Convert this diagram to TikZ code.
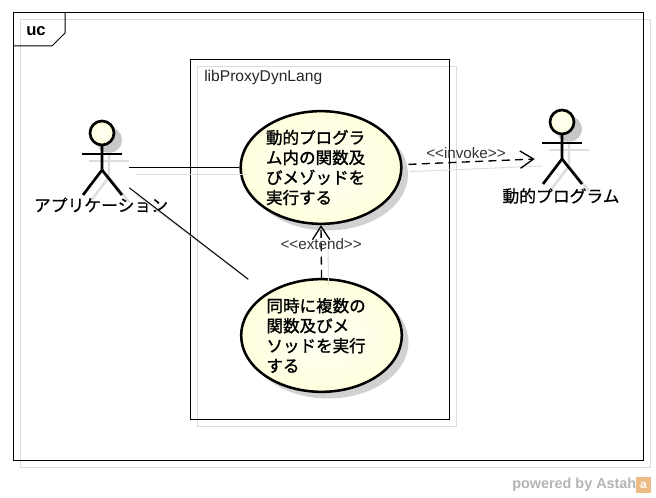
\documentclass[tikz,border=0pt]{standalone}
\usepackage{fontspec}
\setmainfont{Liberation Sans}
\newfontfamily\cjk[FakeBold=0.6]{Noto Sans CJK JP}
\newfontfamily\cjkheavy[FakeBold=1.4]{Noto Sans CJK JP}
\usepackage{xcolor}
\usetikzlibrary{arrows.meta,shapes.geometric,shadows}
\definecolor{creamfill}{HTML}{FFFFDE}
\definecolor{creamlight}{HTML}{FFFFF6}
\definecolor{shadowgray}{HTML}{DDDDDD}
\definecolor{markgray}{HTML}{B4B4B4}
\definecolor{markorange}{HTML}{EDBB85}
\tikzset{
    usecase/.style={ellipse,draw,line width=1.9pt,inner sep=0pt,minimum width=120.5pt,minimum height=84.5pt,
        inner color=creamlight,outer color=creamfill,text width=82.5pt,align=left,
        font=\cjkheavy\fontsize{12.4}{15}\selectfont,
        drop shadow={shadow xshift=5pt,shadow yshift=-5pt,opacity=.3,fill=black!60}},
    actorbox/.style={inner sep=0pt,minimum width=40.5pt,minimum height=30pt},
    actorname/.style={inner sep=0pt,font=\cjk\fontsize{12.6}{15}\selectfont},
    shadowline/.style={shadowgray,line width=.75pt},
    assoc/.style={line width=.75pt},
    dep/.style={line width=1pt,dashed,dash pattern=on 6pt off 4pt,-{Straight Barb[length=10pt,width=13pt,line width=1pt]}},
    stereotype/.style={inner sep=0pt,text=black!80,font=\fontsize{11.4}{14}\selectfont}
}
\begin{document}
\begin{tikzpicture}[x=0.75pt,y=-0.75pt]
\useasboundingbox (0,0) rectangle (656,498);

% Frame
\draw[shadowline] (20,20) rectangle (650,467);
\draw[line width=.75pt] (13,13) rectangle (643,460);
\draw[line width=.75pt] (13,46) -- (52,46) -- (65,33) -- (65,13);
\node[inner sep=0pt,font=\bfseries\fontsize{12.5}{15}\selectfont] (frameName) at (36,31) {uc};

% System boundary
\draw[shadowline] (197,67) rectangle (456,426);
\draw[line width=.75pt] (190,60) rectangle (449,419);
\node[inner sep=0pt,anchor=west,text=black!85,font=\fontsize{11.7}{14}\selectfont] (sysName) at (204,77) {libProxyDynLang};

% Actors
\foreach \x/\y in {102/133, 562/122} {
    \fill[black!22] (\x+7,\y+7) circle (13);
    \draw[shadowgray,line width=1.8pt] (\x-13,\y+28) -- (\x+27,\y+28);
    \draw[shadowgray,line width=1.8pt] (\x+7,\y+19) -- (\x+7,\y+44) -- (\x-12,\y+69);
    \draw[shadowgray,line width=1.8pt] (\x+7,\y+44) -- (\x+27,\y+69);
    \draw[line width=2pt,inner color=creamlight,outer color=creamfill] (\x,\y) circle (12);
    \draw[line width=2pt] (\x-20,\y+21) -- (\x+20,\y+21);
    \draw[line width=2pt] (\x,\y+12) -- (\x,\y+37) -- (\x-19,\y+62);
    \draw[line width=2pt] (\x,\y+37) -- (\x+20,\y+62);
}
\node[actorbox] (app) at (102,167.5) {};
\node[actorbox] (prog) at (562,159) {};
\node[actorname] (appName) at (101,205) {アプリケーション};
\node[actorname] (progName) at (561,196) {動的プログラム};

% Use cases
\node[usecase] (invokeCase) at (321,167.5) {動的プログラ\\ム内の関数及\\びメゾッドを\\実行する};
\node[usecase] (multiCase) at (321.5,335.5) {同時に複数の\\関数及びメ\\ソッドを実行\\する};

% Connector shadows
\draw[shadowline] ([shift={(7,7)}]app.east) -- ([shift={(7,7)}]invokeCase.west);
\draw[shadowline,shorten >=17pt] ([shift={(7,7)}]app.south east) -- ([shift={(7,7)}]multiCase);
\draw[shadowline] ([shift={(7,7)}]invokeCase.2) -- ([shift={(7,7)}]prog.west);
\draw[shadowline] ([shift={(7,15)}]invokeCase.south) -- ([shift={(7,7)}]multiCase.north);

% Connectors
\draw[assoc] (app.east) -- (invokeCase.west);
\draw[assoc,shorten >=17pt] (app.south east) -- (multiCase);
\draw[dep,shorten <=4.5pt] (invokeCase.2) -- (prog.west)
    node[stereotype,pos=.48,yshift=6.5pt] (invokeLabel) {<{}<invoke>{}>};
\draw[dep] (multiCase.north) -- (invokeCase.south)
    node[stereotype,pos=.65] (extendLabel) {<{}<extend>{}>};

% Watermark
\node[inner sep=0pt,anchor=west,text=markgray,font=\bfseries\fontsize{10.8}{13}\selectfont] (mark) at (512,485) {powered by Astah};
\node[fill=markorange,minimum size=11.5pt,inner sep=0pt,text=white,font=\bfseries\fontsize{9}{9}\selectfont] (markIcon) at (643.5,485) {a};
\end{tikzpicture}
\end{document}
